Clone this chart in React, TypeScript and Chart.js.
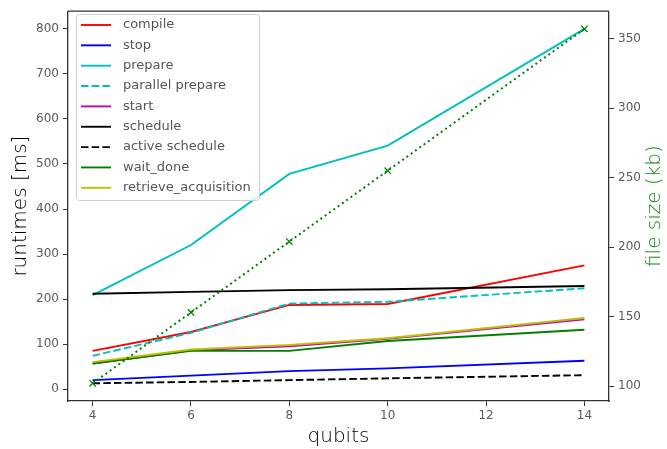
import React, { useEffect, useRef } from "react";
import { Chart, registerables } from "chart.js";

Chart.register(...registerables);

const qubits = [4, 6, 8, 10, 14];
const xTicks = [4, 6, 8, 10, 12, 14];
const leftTicks = [0, 100, 200, 300, 400, 500, 600, 700, 800];
const rightTicks = [100, 150, 200, 250, 300, 350];

const compileMs = [85, 127, 187, 189, 275];
const stopMs = [20, 30, 40, 46, 63];
const prepareMs = [209, 320, 478, 541, 800];
const parallelPrepareMs = [74, 125, 190, 194, 224];
const startMs = [57, 86, 95, 112, 155];
const scheduleMs = [212, 216, 220, 222, 229];
const activeScheduleMs = [13, 16, 20, 24, 31];
const waitDoneMs = [57, 85, 85, 107, 132];
const retrieveMs = [60, 88, 98, 113, 158];
const fileSizeKb = [102, 153, 204, 255, 357];

const FONT = "'DejaVu Sans', sans-serif";
const DASH = [7.5, 3.2];
const DOT = [2, 3.3];
const LW = 1.9;

const series = [
  { label: "compile", data: compileMs, color: "#ff0000", dash: [] as number[] },
  { label: "stop", data: stopMs, color: "#0000ff", dash: [] as number[] },
  { label: "prepare", data: prepareMs, color: "#00bfbf", dash: [] as number[] },
  { label: "parallel prepare", data: parallelPrepareMs, color: "#00bfbf", dash: DASH },
  { label: "start", data: startMs, color: "#bf00bf", dash: [] as number[] },
  { label: "schedule", data: scheduleMs, color: "#000000", dash: [] as number[] },
  { label: "active schedule", data: activeScheduleMs, color: "#000000", dash: DASH },
  { label: "wait_done", data: waitDoneMs, color: "#008000", dash: [] as number[] },
  { label: "retrieve_acquisition", data: retrieveMs, color: "#bfbf00", dash: [] as number[] },
];

function range(vals: number[]) {
  const mn = Math.min(...vals);
  const mx = Math.max(...vals);
  const m = (mx - mn) * 0.05;
  return [mn - m, mx + m];
}

const overlayPlugin = {
  id: "overlay",
  afterDraw(chart: any) {
    const ctx = chart.ctx as CanvasRenderingContext2D;
    const area = chart.chartArea;
    ctx.save();
    // top spine
    ctx.strokeStyle = "#333333";
    ctx.lineWidth = 1.3;
    ctx.beginPath();
    ctx.moveTo(area.left, area.top);
    ctx.lineTo(area.right, area.top);
    ctx.stroke();

    // legend
    const x0 = 76.5, y0 = 14.5, w = 183, h = 186, r = 3;
    ctx.beginPath();
    ctx.moveTo(x0 + r, y0);
    ctx.lineTo(x0 + w - r, y0);
    ctx.quadraticCurveTo(x0 + w, y0, x0 + w, y0 + r);
    ctx.lineTo(x0 + w, y0 + h - r);
    ctx.quadraticCurveTo(x0 + w, y0 + h, x0 + w - r, y0 + h);
    ctx.lineTo(x0 + r, y0 + h);
    ctx.quadraticCurveTo(x0, y0 + h, x0, y0 + h - r);
    ctx.lineTo(x0, y0 + r);
    ctx.quadraticCurveTo(x0, y0, x0 + r, y0);
    ctx.closePath();
    ctx.fillStyle = "rgba(255,255,255,0.8)";
    ctx.fill();
    ctx.strokeStyle = "#cccccc";
    ctx.lineWidth = 1;
    ctx.stroke();

    ctx.font = `13px ${FONT}`;
    ctx.textBaseline = "middle";
    ctx.textAlign = "left";
    series.forEach((s, i) => {
      const y = 25 + i * 20.35;
      ctx.strokeStyle = s.color;
      ctx.lineWidth = LW;
      ctx.setLineDash(s.dash);
      ctx.beginPath();
      ctx.moveTo(81, y);
      ctx.lineTo(111, y);
      ctx.stroke();
      ctx.setLineDash([]);
      ctx.fillStyle = "#555555";
      ctx.fillText(s.label, 123, y);
    });

    // right axis title
    ctx.save();
    ctx.translate(655, (area.top + area.bottom) / 2);
    ctx.rotate(-Math.PI / 2);
    ctx.font = `200 20px ${FONT}`;
    ctx.fillStyle = "#168a16";
    ctx.textAlign = "center";
    ctx.textBaseline = "middle";
    ctx.fillText("file size (kb)", 0, 0);
    ctx.restore();
    ctx.restore();
  },
};

export default function App() {
  const ref = useRef<HTMLCanvasElement>(null);
  useEffect(() => {
    if (!ref.current) return;
    const allLeft = series.flatMap((s) => s.data);
    const [lMin, lMax] = range(allLeft);
    const [rMin, rMax] = range(fileSizeKb);
    const [xMin, xMax] = range(qubits);
    const datasets: any[] = series.map((s, i) => ({
      label: s.label,
      data: qubits.map((q, j) => ({ x: q, y: s.data[j] })),
      borderColor: s.color,
      backgroundColor: s.color,
      borderWidth: LW,
      borderDash: s.dash,
      pointRadius: 0,
      tension: 0,
      yAxisID: "y",
      order: 100 - i,
    }));
    datasets.push({
      label: "file size",
      data: qubits.map((q, j) => ({ x: q, y: fileSizeKb[j] })),
      borderColor: "#008000",
      backgroundColor: "#008000",
      borderWidth: 2,
      borderDash: DOT,
      pointStyle: "crossRot",
      pointRadius: 4.5,
      pointBorderWidth: 1.3,
      tension: 0,
      yAxisID: "y2",
      order: 0,
    });
    const tickFont = { family: FONT, size: 12 };
    const titleFont = { family: FONT, size: 20, weight: "200" };
    const chart = new Chart(ref.current, {
      type: "line",
      data: { datasets },
      plugins: [overlayPlugin],
      options: {
        responsive: false,
        animation: false,
        layout: { padding: { top: 6, left: 0, right: 0, bottom: 0 } },
        plugins: { legend: { display: false }, tooltip: { enabled: false } },
        scales: {
          x: {
            type: "linear",
            min: xMin,
            max: xMax,
            afterBuildTicks: (s: any) => {
              s.ticks = xTicks.map((v) => ({ value: v }));
            },
            afterFit: (s: any) => {
              s.height = 48;
            },
            grid: { drawOnChartArea: false, drawTicks: true, tickLength: 5, tickColor: "#333", tickWidth: 1 },
            border: { display: true, color: "#333333", width: 1.3 },
            ticks: { font: tickFont, color: "#5a5a5a", padding: 3, maxRotation: 0, autoSkip: false },
            title: { display: true, text: "qubits", font: titleFont, color: "#000000", padding: { top: 0, bottom: 0 } },
          },
          y: {
            type: "linear",
            position: "left",
            min: lMin,
            max: lMax,
            afterBuildTicks: (s: any) => {
              s.ticks = leftTicks.map((v) => ({ value: v }));
            },
            afterFit: (s: any) => {
              s.width = 68;
            },
            grid: { drawOnChartArea: false, drawTicks: true, tickLength: 5, tickColor: "#333", tickWidth: 1 },
            border: { display: true, color: "#333333", width: 1.3 },
            ticks: { font: tickFont, color: "#5a5a5a", padding: 4, autoSkip: false },
            title: { display: true, text: "runtimes [ms]", font: titleFont, color: "#000000", padding: { top: 9, bottom: 0 } },
          },
          y2: {
            type: "linear",
            position: "right",
            min: rMin,
            max: rMax,
            afterBuildTicks: (s: any) => {
              s.ticks = rightTicks.map((v) => ({ value: v }));
            },
            afterFit: (s: any) => {
              s.width = 58;
            },
            grid: { drawOnChartArea: false, drawTicks: true, tickLength: 5, tickColor: "#333", tickWidth: 1 },
            border: { display: true, color: "#333333", width: 1.3 },
            ticks: { font: tickFont, color: "#5a5a5a", padding: 4, autoSkip: false },
          },
        },
      } as any,
    });
    return () => chart.destroy();
  }, []);
  return (
    <div style={{ position: "absolute", left: 0, top: 0, width: 667, height: 449, background: "#fff" }}>
      <canvas ref={ref} width={667} height={449} style={{ display: "block", width: 667, height: 449 }} />
    </div>
  );
}
